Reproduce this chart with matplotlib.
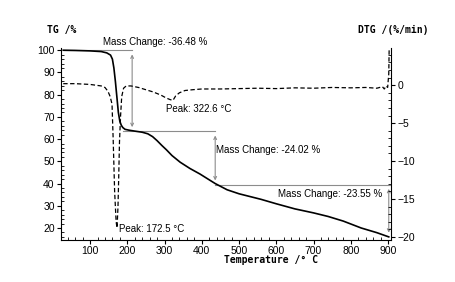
"""TG / DTG curve with mass-change steps."""

import matplotlib

matplotlib.use("Agg")
import matplotlib.pyplot as plt
from matplotlib.ticker import AutoMinorLocator, MultipleLocator

# ---- TG curve (left axis, %) ----
tg_temp = [28, 60, 100, 130, 145, 155, 160, 164, 168, 172, 176, 180, 184, 188,
           194, 205, 220, 240, 255, 268, 280, 293, 305, 320, 342, 368, 395,
           436, 468, 500, 559, 600, 650, 700, 739, 780, 828, 870, 902]
tg_mass = [100, 99.9, 99.7, 99.4, 98.8, 97.8, 96.0, 92.0, 86.0, 79.0, 72.0,
           68.0, 66.2, 65.2, 64.4, 64.0, 63.6, 63.1, 62.4, 61.1, 59.3, 57.1,
           55.2, 52.6, 49.6, 46.8, 44.3, 40.0, 37.2, 35.4, 32.9, 30.9, 28.6,
           26.8, 25.2, 23.1, 20.0, 17.9, 16.0]

# ---- DTG curve (right axis, %/min) ----
dtg_temp = [28, 60, 100, 130, 140, 148, 154, 159, 162, 166, 170, 172.5, 175,
            177, 179, 182, 185, 190, 197, 210, 230, 250, 270, 290, 305, 315,
            322.6, 330, 340, 355, 375, 400, 450, 500, 550, 600, 650, 700, 750,
            800, 840, 870, 885, 890, 895, 899, 902, 903]
dtg_rate = [0.2, 0.2, 0.1, -0.1, -0.3, -0.8, -1.5, -2.5, -7.0, -14.0, -18.0,
            -18.8, -16.0, -12.0, -7.5, -4.0, -1.5, -0.4, -0.1, -0.1, -0.3,
            -0.6, -0.9, -1.3, -1.7, -1.9, -2.0, -1.4, -1.0, -0.7, -0.6, -0.5,
            -0.5, -0.45, -0.4, -0.45, -0.35, -0.4, -0.3, -0.35, -0.3, -0.4,
            -0.2, -0.5, -0.1, -0.3, 1.5, 4.6]

# ---- mass-change steps: (x of arrow, upper level, lower level, label) ----
step_x = [213, 436, 902]
step_top = [100.0, 63.5, 39.5]
step_bottom = [63.5, 39.5, 16.0]
step_labels = ["Mass Change: -36.48 %", "Mass Change: -24.02 %",
               "Mass Change: -23.55 %"]
# horizontal reference lines (start, end)
level_start = [30, 188, 436]
level_end = [213, 436, 905]

peak_temp = [172.5, 322.6]
peak_labels = ["Peak: 172.5 °C", "Peak: 322.6 °C"]

W, H = 456, 282
fig = plt.figure(figsize=(W / 100, H / 100), dpi=100)
ax = fig.add_axes([61 / W, 1 - 240 / H, 330 / W, 192 / H])
ax2 = ax.twinx()

SANS = "Liberation Sans"
MONO = "DejaVu Sans Mono"

ax.plot(tg_temp, tg_mass, color="black", lw=1.2, zorder=3)
ax2.plot(dtg_temp, dtg_rate, color="black", lw=0.9, ls=(0, (3.5, 2)))

grey = "#8c8c8c"
for i in range(3):
    ax.plot([level_start[i], level_end[i]], [step_top[i], step_top[i]],
            color=grey, lw=0.8)
    ax.annotate("", xy=(step_x[i], step_bottom[i]),
                xytext=(step_x[i], step_top[i]),
                arrowprops=dict(arrowstyle="<->", color=grey, lw=0.8,
                                mutation_scale=5, shrinkA=3, shrinkB=3))

ax.text(135, 103.7, step_labels[0], fontsize=7, family=SANS, va="center",
        clip_on=False)
ax.text(438, 55, step_labels[1], fontsize=7, family=SANS, va="center")
ax.text(884, 35.2, step_labels[2], fontsize=7, family=SANS, va="center",
        ha="right")
ax.text(peak_temp[0] + 5, 19.4, peak_labels[0], fontsize=7, family=SANS,
        va="center")
ax.text(peak_temp[1] - 18, 73.4, peak_labels[1], fontsize=7, family=SANS,
        va="center")

ax.set_xlim(22, 908)
ax.set_ylim(14.6, 101)
ax2.set_ylim(-20.4, 4.9)

ax.xaxis.set_major_locator(MultipleLocator(100))
ax.xaxis.set_minor_locator(AutoMinorLocator(5))
ax.yaxis.set_major_locator(MultipleLocator(10))
ax.yaxis.set_minor_locator(AutoMinorLocator(5))
ax2.yaxis.set_major_locator(MultipleLocator(5))
ax2.yaxis.set_minor_locator(AutoMinorLocator(5))

ax.set_xticks([100, 200, 300, 400, 500, 600, 700, 800, 900])
ax.set_yticks([20, 30, 40, 50, 60, 70, 80, 90, 100])
ax2.set_yticks([-20, -15, -10, -5, 0])

for a in (ax, ax2):
    a.spines["top"].set_visible(False)
    a.tick_params(which="major", direction="out", length=3, width=0.8,
                  labelsize=7.5, pad=1.5)
    a.tick_params(which="minor", direction="in", length=2, width=0.6)
ax.spines["right"].set_visible(False)
ax2.spines["left"].set_visible(False)
ax2.spines["bottom"].set_visible(False)
for a in (ax, ax2):
    for lab in a.get_xticklabels() + a.get_yticklabels():
        lab.set_family(SANS)
ax2.set_yticklabels(["\u221220", "\u221215", "\u221210", "\u22125", "0"])

fig.text(47 / W, 1 - 30 / H, "TG /%", fontsize=7, family=MONO,
         weight="bold", va="center")
fig.text(358 / W, 1 - 30 / H, "DTG /(%/min)", fontsize=7, family=MONO,
         weight="bold", va="center")
fig.text(271 / W, 1 - 260 / H, "Temperature /° C", fontsize=7, family=MONO,
         weight="bold", va="center", ha="center")

fig.savefig("out.png", dpi=100)
